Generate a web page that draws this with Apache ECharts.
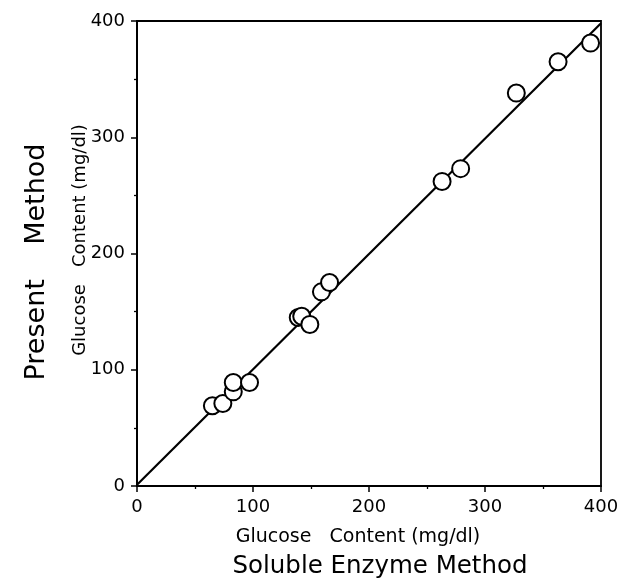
<!DOCTYPE html>
<html>
<head>
<meta charset="utf-8">
<script src="https://cdn.jsdelivr.net/npm/echarts@6/dist/echarts.min.js"></script>
<style>
  html, body { margin: 0; padding: 0; background: #fff; }
  #chart { width: 628px; height: 583px; }
</style>
</head>
<body>
<div id="chart"></div>
<script>
// soluble enzyme method (x) vs present method (y), mg/dl
var enzymeVals  = [65, 74, 83, 83, 97, 139, 142, 149, 159, 166, 263, 279, 327, 363, 391];
var presentVals = [69, 71, 81, 89, 89, 145, 146, 139, 167, 175, 262, 273, 338, 365, 381];
// fitted line end points
var fitX = [0, 400];
var fitY = [1, 398];
var axisTicks = [0, 100, 200, 300, 400];

var points = enzymeVals.map(function (v, i) { return [v, presentVals[i]]; });
var fitLine = fitX.map(function (v, i) { return [v, fitY[i]]; });

var font = 'DejaVu Sans';
var chart = echarts.init(document.getElementById('chart'));

var axisCommon = {
    type: 'value',
    min: axisTicks[0],
    max: axisTicks[axisTicks.length - 1],
    interval: 100,
    axisLine: { show: true, lineStyle: { color: '#000', width: 2 } },
    axisTick: { show: true, inside: false, length: 6, lineStyle: { color: '#000', width: 1.5 } },
    minorTick: { show: true, splitNumber: 2, length: 3, lineStyle: { color: '#000', width: 1.3 } },
    splitLine: { show: false },
    axisLabel: { color: '#000', fontFamily: font, fontSize: 18, margin: 12 }
};

// axis titles (two lines each, as in the original figure)
function title(txt, size, x, y, rot) {
    return {
        type: 'text', x: x, y: y, rotation: rot || 0,
        style: {
            x: 0, y: 0, text: txt,
            font: size + 'px ' + font, fill: '#000',
            textAlign: 'center', textVerticalAlign: 'middle'
        }
    };
}

chart.setOption({
    animation: false,
    backgroundColor: '#fff',
    grid: {
        left: 137, right: 27, top: 21, bottom: 97,
        show: true, borderColor: '#000', borderWidth: 1.8,
        containLabel: false
    },
    xAxis: axisCommon,
    yAxis: axisCommon,
    graphic: [
        title('Glucose   Content (mg/dl)', 19, 358, 537),
        title('Soluble Enzyme Method', 24.5, 380, 567),
        title('Glucose   Content (mg/dl)', 18, 80, 240, Math.PI / 2),
        title('Present    Method', 27, 37, 262, Math.PI / 2)
    ],
    series: [
        {
            type: 'line',
            data: fitLine,
            symbol: 'none',
            lineStyle: { color: '#000', width: 2.2 },
            z: 2
        },
        {
            type: 'scatter',
            data: points,
            symbol: 'circle',
            symbolSize: 17,
            itemStyle: { color: '#fff', borderColor: '#000', borderWidth: 2, opacity: 1 },
            z: 3
        }
    ]
});
</script>
</body>
</html>
